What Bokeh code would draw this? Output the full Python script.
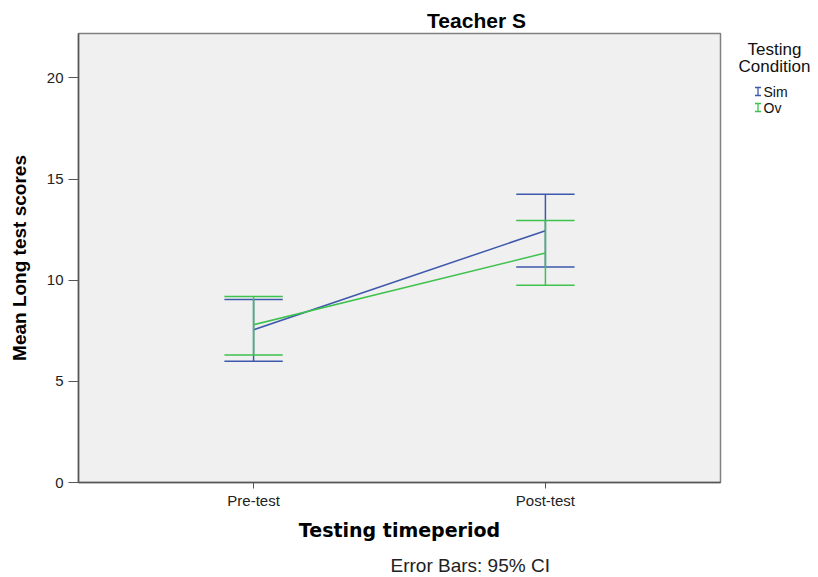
from bokeh.plotting import figure
from bokeh.layouts import row, column
from bokeh.models import Range1d, FixedTicker
from bokeh.core.properties import value
from bokeh.embed import file_html
from bokeh.resources import INLINE

# Data
periods = ["Pre-test", "Post-test"]
xpos = [0, 1]
sim_mean = [7.55, 12.45]
sim_low = [6.0, 10.65]
sim_high = [9.05, 14.25]
ov_mean = [7.8, 11.35]
ov_low = [6.3, 9.75]
ov_high = [9.2, 12.95]
yticks = [0, 5, 10, 15, 20]
series_names = ["Sim", "Ov"]

BLUE = "#3E58AC"
GREEN = "#3EC24E"
COLORS = [BLUE, GREEN]
CAP = 0.1

W = 810
HEAD = 32
MID = 522
FOOT = 23
FRAME_TOP = 33
FRAME_BOT = 482
MAIN_W = 722


def blank(width, height, xr=None, yr=None):
    f = figure(width=width, height=height, output_backend="svg", toolbar_location=None,
               title=None, x_axis_type=None, y_axis_type=None,
               x_range=xr or Range1d(0, width), y_range=yr or Range1d(height, 0),
               min_border_left=0, min_border_right=0, min_border_top=0, min_border_bottom=0,
               outline_line_color=None)
    f.grid.visible = False
    f.background_fill_color = "white"
    f.border_fill_color = "white"
    return f


# Header with title
head = blank(W, HEAD)
head.text(x=[476], y=[19.5], text=["Teacher S"], text_align="center", text_baseline="middle",
          text_font=value("Liberation Sans"), text_font_style="bold", text_font_size="21px",
          text_color="black")

# Main chart
p = figure(width=MAIN_W, height=MID, output_backend="svg", toolbar_location=None,
           x_range=Range1d(-0.6, 1.6), y_range=Range1d(0, 22.2),
           min_border_left=78, min_border_right=2, min_border_top=FRAME_TOP - HEAD,
           min_border_bottom=MID - (FRAME_BOT - HEAD))
p.title.visible = False
p.background_fill_color = "#f0f0f0"
p.border_fill_color = "white"
p.outline_line_color = "#808080"
p.outline_line_width = 1.5
p.xgrid.visible = False
p.ygrid.visible = False

for mean, lo, hi, col in [(sim_mean, sim_low, sim_high, BLUE), (ov_mean, ov_low, ov_high, GREEN)]:
    p.line(xpos, mean, line_color=col, line_width=1.5)
    p.segment(xpos, lo, xpos, hi, line_color=col, line_width=1.5)
    p.segment([x - CAP for x in xpos], lo, [x + CAP for x in xpos], lo, line_color=col, line_width=1.5)
    p.segment([x - CAP for x in xpos], hi, [x + CAP for x in xpos], hi, line_color=col, line_width=1.5)

p.xaxis.ticker = FixedTicker(ticks=xpos)
p.xaxis.major_label_overrides = {x: lab for x, lab in zip(xpos, periods)}
p.yaxis.ticker = FixedTicker(ticks=yticks)
for ax in (p.xaxis[0], p.yaxis[0]):
    ax.axis_line_color = "#555555"
    ax.axis_line_width = 1.5
    ax.major_tick_line_color = "#555555"
    ax.major_tick_in = 0
    ax.minor_tick_line_color = None
    ax.major_label_text_font = "Liberation Sans"
    ax.major_label_text_font_size = "15px"
    ax.major_label_text_color = "#222222"
p.xaxis.major_tick_out = 6
p.xaxis.major_label_standoff = 3
p.yaxis.major_tick_out = 10
p.yaxis.major_label_standoff = 5

p.xaxis.axis_label = "Testing timeperiod"
p.xaxis.axis_label_text_font = "DejaVu Sans"
p.xaxis.axis_label_text_font_style = "bold"
p.xaxis.axis_label_text_font_size = "19px"
p.xaxis.axis_label_text_color = "black"
p.xaxis.axis_label_standoff = 7

p.yaxis.axis_label = "Mean Long test scores"
p.yaxis.axis_label_text_font = "Liberation Sans"
p.yaxis.axis_label_text_font_style = "bold"
p.yaxis.axis_label_text_font_size = "19px"
p.yaxis.axis_label_text_color = "black"
p.yaxis.axis_label_standoff = 14

# Legend panel at right (its frame is aligned with the main frame; use page pixel coords)
lg = blank(W - MAIN_W, MID, xr=Range1d(MAIN_W, W), yr=Range1d(FRAME_BOT, FRAME_TOP))
lg.text(x=[774, 774], y=[49, 65.5], text=["Testing", "Condition"],
        text_align="center", text_baseline="middle", text_font=value("Liberation Sans"),
        text_font_size="17px", text_color="#111111")
mid_y = [91, 107]
lg.text(x=[763] * 2, y=mid_y, text=series_names, text_align="left", text_baseline="middle",
        text_font=value("Liberation Sans"), text_font_size="14px", text_color="#111111")
ix = 757.5
top = [m - 4 for m in mid_y]
bot = [m + 4 for m in mid_y]
lg.segment([ix] * 2, top, [ix] * 2, bot, line_color=COLORS, line_width=1.3)
lg.segment([ix - 3] * 2, top, [ix + 3] * 2, top, line_color=COLORS, line_width=1.3)
lg.segment([ix - 3] * 2, bot, [ix + 3] * 2, bot, line_color=COLORS, line_width=1.3)

# Footer with error bar note
foot = blank(W, FOOT)
foot.text(x=[390], y=[11], text=["Error Bars: 95% CI"], text_align="left", text_baseline="middle",
          text_font=value("Liberation Sans"), text_font_size="19px", text_color="#222222")

layout = column(head, row(p, lg), foot)
open("out.html", "w").write(file_html(layout, INLINE))
